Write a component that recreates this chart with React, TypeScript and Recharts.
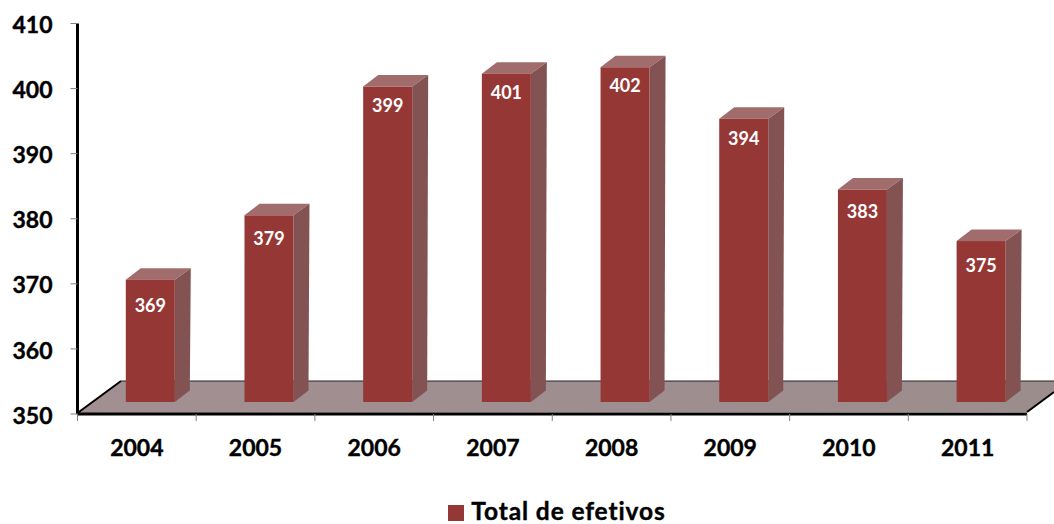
import { BarChart, Bar, XAxis, YAxis, Legend, LabelList } from "recharts";

const years = ["2004", "2005", "2006", "2007", "2008", "2009", "2010", "2011"];
const efetivos = [369, 379, 399, 401, 402, 394, 383, 375];
const yTicks = [350, 360, 370, 380, 390, 400, 410];
const edgeTicks = [0, 1, 2, 3, 4, 5, 6, 7, 8];

const data = years.map((year, i) => ({ year, efetivos: efetivos[i], edge: i }));

const COLORS = {
  front: "#953735",
  side: "#835353",
  top: "#a06c6c",
  floor: "#9c8d8d",
  tick: "#808080",
};

const FONT = "Lato, 'Open Sans', sans-serif";

// fake 3D box, depth goes up and to the right
function Box3D({ x, y, width, height }: any) {
  const dx = 15;
  const dy = 11.5;
  const r = x + width;
  const b = y + height;
  return (
    <g>
      <polygon points={`${x},${y} ${x + dx},${y - dy} ${r + dx + 1},${y - dy} ${r},${y}`} fill={COLORS.top} />
      <polygon points={`${r},${y} ${r + dx + 1},${y - dy} ${r + dx},${b - dy} ${r},${b}`} fill={COLORS.side} />
      <rect x={x} y={y} width={width} height={height} fill={COLORS.front} />
    </g>
  );
}

function BarValue({ x, y, width, value }: any) {
  const v = Array.isArray(value) ? value[1] : value;
  const dy = 25 - (v - 369) * 0.22;
  return (
    <text
      x={x + width / 2}
      y={y + dy}
      textAnchor="middle"
      dominantBaseline="central"
      fill="#fff"
      fontFamily={FONT}
      fontWeight={700}
      fontSize={18}
    >
      {v}
    </text>
  );
}

// keeps the tick lines on the edge axis but draws no text
const NoTickText = () => <g />;

export default function App() {
  return (
    <div style={{ position: "absolute", left: 0, top: 0, width: 1054, height: 524, overflow: "hidden", background: "#fff" }}>
      <BarChart
        width={1054}
        height={524}
        data={data}
        margin={{ top: 23.5, right: 27, bottom: 43, left: 0 }}
      >
        <defs>
          <linearGradient id="floorGrad" x1="0" y1="0" x2="1" y2="0">
            <stop offset="0%" stopColor="#a28f92" />
            <stop offset="100%" stopColor={COLORS.floor} />
          </linearGradient>
        </defs>
        {/* floor of the 3D plot */}
        <polygon
          points="77.5,413 121,381 1054,381 1054,392 1027,412"
          fill="url(#floorGrad)"
        />
        <line x1={121} y1={381} x2={1054} y2={381} stroke="#222" strokeWidth={1} />
        <line x1={77.5} y1={413} x2={121} y2={381} stroke="#000" strokeWidth={2} />
        <line x1={1027} y1={412} x2={1054} y2={392} stroke="#000" strokeWidth={2} />

        <XAxis
          xAxisId="edges"
          type="number"
          dataKey="edge"
          domain={[0, 8]}
          allowDataOverflow
          ticks={edgeTicks}
          interval={0}
          tick={<NoTickText />}
          height={1}
          tickSize={7}
          axisLine={{ stroke: "#000", strokeWidth: 3 }}
          tickLine={{ stroke: COLORS.tick }}
        />
        <XAxis
          xAxisId="labels"
          dataKey="year"
          height={40}
          axisLine={false}
          tickLine={false}
          tickMargin={19}
          tick={{ fill: "#000", stroke: "#000", strokeWidth: 0.4, fontSize: 23, fontWeight: 700, fontFamily: FONT }}
        />
        {/* bars sit further back than the axis, so they get their own scales */}
        <XAxis xAxisId="bars" dataKey="year" hide height={0} padding={{ left: 13.3, right: -13.3 }} />
        <YAxis
          yAxisId="left"
          width={77.5}
          domain={[350, 410]}
          allowDataOverflow
          ticks={yTicks}
          interval={0}
          tickSize={7}
          tickMargin={18}
          axisLine={{ stroke: "#000", strokeWidth: 3 }}
          tickLine={{ stroke: COLORS.tick }}
          tick={{ fill: "#000", stroke: "#000", strokeWidth: 0.4, fontSize: 23, fontWeight: 700, fontFamily: FONT, dy: 1.5 }}
        />
        <YAxis yAxisId="bars" hide width={0} domain={[348.13, 408.8]} />
        <Bar
          xAxisId="bars"
          yAxisId="bars"
          name="Total de efetivos"
          dataKey={(d: any) => [350, d.efetivos]}
          barSize={49}
          fill={COLORS.front}
          shape={<Box3D />}
          isAnimationActive={false}
        >
          <LabelList content={<BarValue />} />
        </Bar>
        <Legend
          iconType="square"
          iconSize={16}
          wrapperStyle={{ left: 35, width: 1054, bottom: 2, paddingLeft: 0, height: 26 }}
          formatter={(value: string) => (
            <span style={{ color: "#000", fontFamily: FONT, fontWeight: 700, fontSize: 24.5, letterSpacing: 0.9, lineHeight: 1, marginLeft: 3, position: "relative", top: 3, WebkitTextStroke: "0.4px #000" }}>{value}</span>
          )}
        />
      </BarChart>
    </div>
  );
}
